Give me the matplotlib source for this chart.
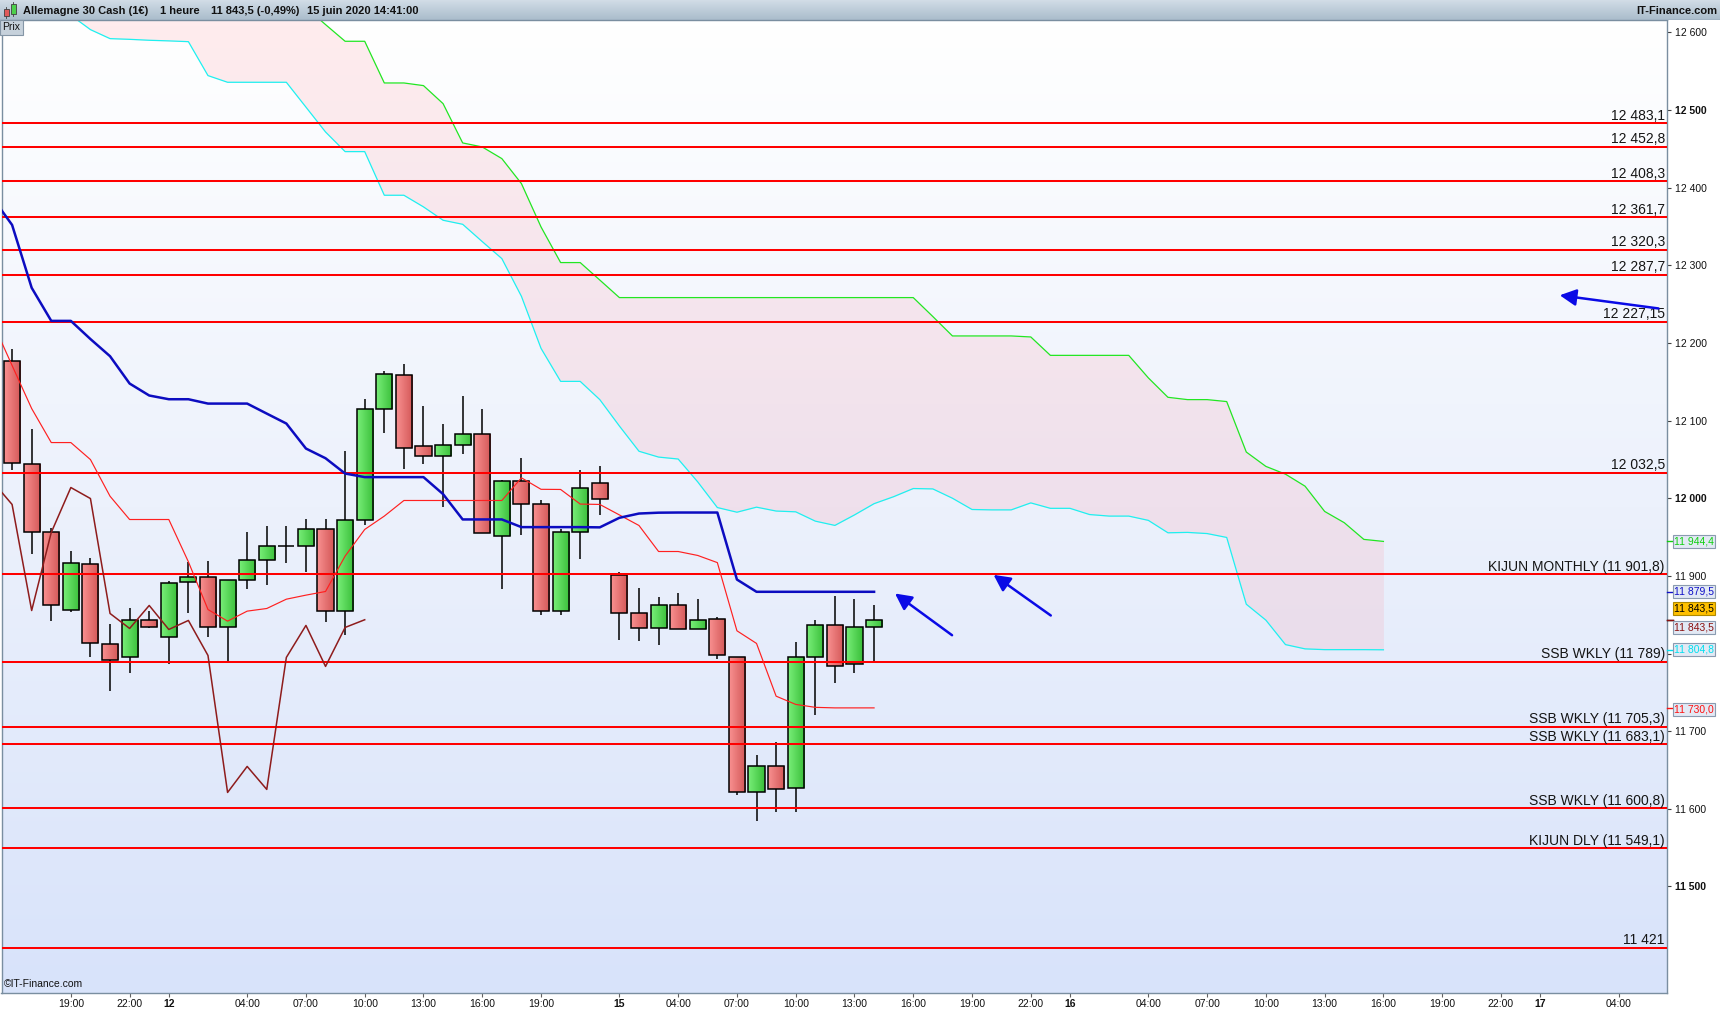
import numpy as np
import matplotlib
matplotlib.use('Agg')
import matplotlib.pyplot as plt
import matplotlib.transforms as mtransforms
from matplotlib.colors import LinearSegmentedColormap
from matplotlib.patches import Rectangle

plt.rcParams['font.family'] = ['Liberation Sans', 'DejaVu Sans']

# ---------------- data (hourly bars, index 0 = 11 juin 16:00) ----------------
opens = [12177.3, 12044.7, 11957.1, 11856.7, 11914.7, 11811.7, 11794.9, 11842.6, 11820.7, 11891.5,
         11899.2, 11834.8, 11894.1, 11921.1, 11939.1, 11939.1, 11961.0, 11855.4, 11972.6, 12115.5,
         12159.3, 12067.9, 12055.0, 12069.2, 12082.1, 11952.0, 12021.6, 11993.2, 11855.4, 11955.9,
         12019.0, 11900.9, 11851.6, 11832.3, 11861.9, 11831.0, 11845.1, 11795.8, 11621.1, 11654.6,
         11627.2, 11795.0, 11836.2, 11786.0, 11833.6]
highs = [12192.8, 12088.9, 11962.3, 11931.8, 11922.4, 11837.8, 11858.0, 11854.6, 11893.2, 11918.1,
         11919.0, 11895.0, 11956.3, 11964.0, 11964.0, 11973.9, 11973.9, 12060.6, 12128.4, 12163.6,
         12172.6, 12118.6, 12095.4, 12132.3, 12114.3, 12024.1, 12051.6, 11997.5, 11960.2, 12036.1,
         12041.3, 11904.8, 11884.2, 11872.6, 11877.7, 11870.0, 11846.8, 11795.8, 11668.8, 11686.0,
         11814.7, 11843.0, 11873.9, 11870.1, 11862.4]
lows = [12037.0, 11928.0, 11842.1, 11853.7, 11795.8, 11752.0, 11775.2, 11832.3, 11786.3, 11852.4,
        11821.5, 11790.6, 11883.3, 11888.0, 11916.8, 11905.2, 11840.8, 11823.7, 11965.3, 12084.2,
        12037.9, 12044.3, 11988.9, 12057.2, 11954.6, 11882.9, 11952.5, 11849.9, 11849.9, 11922.0,
        11978.6, 11817.2, 11816.4, 11811.2, 11831.0, 11831.0, 11793.2, 11618.1, 11584.7, 11596.3,
        11596.3, 11721.2, 11762.4, 11775.2, 11790.3]
closes = [12046.0, 11957.1, 11861.9, 11916.8, 11814.2, 11791.1, 11842.6, 11834.8, 11890.2, 11898.4,
          11834.8, 11894.1, 11921.1, 11939.1, 11939.1, 11961.0, 11855.4, 11972.6, 12115.5, 12160.6,
          12064.1, 12055.0, 12069.2, 12082.1, 11954.6, 12021.6, 11992.0, 11855.4, 11955.9, 12013.8,
          11999.6, 11851.6, 11832.3, 11861.9, 11831.0, 11842.6, 11797.5, 11621.1, 11654.6, 11625.0,
          11795.0, 11836.2, 11783.4, 11833.6, 11843.5]

KIJUN_START = -1
kijun = [12387, 12352, 12271, 12228.4, 12228.4, 12205, 12182.9, 12147.7, 12132.3, 12127.5,
         12127.5, 12121.9, 12121.9, 12121.9, 12109, 12096.2, 12064.0, 12051.5, 12031.8, 12027.2,
         12027.2, 12027.2, 12027.2, 12005.3, 11972.7, 11972.7, 11972.7, 11962.8, 11962.8, 11962.8,
         11962.8, 11962.5, 11974.8, 11980.3, 11981.4, 11981.6, 11981.6, 11981.6, 11895.3, 11879.5,
         11879.5, 11879.5, 11879.5, 11879.5, 11879.5, 11879.5]
TENKAN_START = -1
tenkan = [12227, 12171, 12115.5, 12071.7, 12071.7, 12049.8, 12002.6, 11972.6, 11972.6, 11972.6,
          11918.1, 11856.7, 11841.7, 11854.6, 11858.0, 11870.0, 11875.2, 11879.9, 11925.5, 11959.8,
          11977.0, 11997.1, 11997.1, 11997.1, 11997.1, 11997.1, 11997.1, 12026.3, 12011.5, 12011.3,
          11992.5, 11992.0, 11978.5, 11964.9, 11931.4, 11931.4, 11926.3, 11917.1, 11829.3, 11813.0,
          11745.1, 11734.5, 11730.7, 11730.0, 11730.0, 11730.0]
CHIKOU_SHIFT = 26
SPAN_A_START = 2
span_a = [12640, 12622, 12603.5, 12591.9, 12591.0, 12589.8, 12589.0, 12588.0, 12544.3, 12535.7,
          12535.7, 12535.7, 12535.7, 12503.7, 12471.7, 12446.4, 12446.4, 12390.2, 12390.2, 12375.2,
          12358.0, 12352.8, 12330.5, 12308.6, 12260.0, 12193.0, 12150.5, 12150.5, 12127.0, 12093.0,
          12060.5, 12053.0, 12050.5, 12021.0, 11988.0, 11982.0, 11988.5, 11983.5, 11982.5, 11970.5,
          11965.0, 11978.5, 11993.0, 12002.0, 12012.5, 12012.0, 12000.0, 11985.5, 11985.0, 11985.0,
          11994.0, 11987.0, 11987.0, 11979.0, 11977.0, 11977.0, 11971.5, 11955.5, 11956.0, 11954.5,
          11949.5, 11863.5, 11843.0, 11811.5, 11806.0, 11805.0, 11805.0, 11805.0, 11804.8]
SPAN_B_START = 15
span_b = [12632, 12610, 12588.5, 12588.5, 12534.8, 12534.8, 12531.4, 12508.2, 12457.6, 12452.4,
          12437.4, 12405.2, 12349.4, 12303.5, 12303.5, 12281.0,
          12258.4, 12258.4, 12258.4, 12258.4, 12258.4, 12258.4, 12258.4, 12258.4,
          12258.4, 12258.4, 12258.4, 12258.4, 12258.4, 12258.4, 12258.4, 12258.4,
          12234.0, 12209.0, 12209.0, 12209.0, 12209.0, 12207.7, 12184.0, 12184.0, 12184.0, 12184.0,
          12184.0, 12155.0, 12130.0, 12127.0, 12127.0, 12124.5, 12059.5, 12041.0, 12031.0, 12015.5,
          11983.0, 11968.5, 11947.0, 11944.4]

level_values = [12483.1, 12452.8, 12408.3, 12361.7, 12320.3, 12287.7, 12227.15, 12032.5,
                11901.8, 11789.0, 11705.3, 11683.1, 11600.8, 11549.1, 11421.0]
level_labels = ['12 483,1', '12 452,8', '12 408,3', '12 361,7', '12 320,3', '12 287,7', '12 227,15',
                '12 032,5', 'KIJUN MONTHLY (11 901,8)', 'SSB WKLY (11 789)', 'SSB WKLY (11 705,3)',
                'SSB WKLY (11 683,1)', 'SSB WKLY (11 600,8)', 'KIJUN DLY (11 549,1)', '11 421']

# 11 800 is hidden behind the value tags in the reference
ytick_values = [11500, 11600, 11700, 11800, 11900, 12000, 12100, 12200, 12300, 12400, 12500, 12600]
ytick_labels = ['11 500', '11 600', '11 700', '', '11 900', '12 000', '12 100', '12 200',
                '12 300', '12 400', '12 500', '12 600']
ytick_bold = [11500, 12000, 12500]

xtick_pos = [3, 6, 8, 12, 15, 18, 21, 24, 27, 31, 34, 37, 40, 43, 46, 49, 52, 54, 58, 61, 64, 67,
             70, 73, 76, 78, 82]
xtick_labels = ['19:00', '22:00', '12', '04:00', '07:00', '10:00', '13:00', '16:00', '19:00', '15',
                '04:00', '07:00', '10:00', '13:00', '16:00', '19:00', '22:00', '16', '04:00', '07:00',
                '10:00', '13:00', '16:00', '19:00', '22:00', '17', '04:00']
day_labels = ['12', '15', '16', '17']

# arrows (tail -> head) in chart coordinates
arrow_tails = [(47.98, 11823.6), (53.02, 11849.0), (84.04, 12244.4)]
arrow_heads = [(45.07, 11877.3), (50.10, 11901.3), (79.00, 12261.4)]

# right-axis value boxes: (value, label, text colour, face colour, label offset)
value_tags = [(11944.4, '11 944,4', '#10d010', None, 0.0),
              (11879.5, '11 879,5', '#1010c8', None, 0.0),
              (11843.5, '11 843,5', '#000000', '#ffc000', 15.0),
              (11843.5, '11 843,5', '#8b1010', None, -9.5),
              (11804.8, '11 804,8', '#00e0f0', None, 0.0),
              (11730.0, '11 730,0', '#ff1010', None, -2.0)]

title_parts = [(23, 'Allemagne 30 Cash (1€)'), (160, '1 heure'), (211, '11 843,5 (-0,49%)'),
               (307, '15 juin 2020 14:41:00')]

# ---------------- figure ----------------
W, H = 1720, 1010
fig = plt.figure(figsize=(W / 100, H / 100), dpi=100, facecolor='white')


def px_rect(x0, y0, x1, y1):
    return [x0 / W, 1 - y1 / H, (x1 - x0) / W, (y1 - y0) / H]


ax = fig.add_axes(px_rect(1.5, 20, 1667.3, 992.7))
XMIN, XMAX = -0.54, 84.49
YMIN, YMAX = 11363.2, 12615.9

# background gradient
grad = np.linspace(0, 1, 256).reshape(-1, 1)
bg_cmap = LinearSegmentedColormap.from_list('bg', ['#d8e3fa', '#ecf1fc', '#ffffff'])
ax.imshow(grad, extent=[0, 1, 0, 1], transform=ax.transAxes, cmap=bg_cmap, aspect='auto',
          origin='lower', zorder=0, interpolation='bilinear')

# cloud
sa_x = SPAN_A_START + np.arange(len(span_a))
sb_x = SPAN_B_START + np.arange(len(span_b))
sa = np.array(span_a, dtype=float)
sb_on_a = np.full(len(sa), YMAX + 200.0)
for xx, vv in zip(sb_x, span_b):
    sb_on_a[xx - SPAN_A_START] = vv
ax.fill_between(sa_x, sa, sb_on_a, where=sb_on_a >= sa, color='#ff8c9a', alpha=0.16, lw=0,
                zorder=1)
ax.plot(sa_x, sa, color='#1ef0f0', lw=0.9, zorder=2)
ax.plot(sb_x, span_b, color='#22e622', lw=0.9, zorder=2)

# candles
idx = np.arange(len(closes))
o = np.array(opens); c = np.array(closes); h = np.array(highs); l = np.array(lows)
ax.vlines(idx, l, h, color='black', lw=1.1, zorder=3)
bw = 0.82
bottoms = np.minimum(o, c)
heights = np.abs(c - o)
red_cmap = LinearSegmentedColormap.from_list('r', ['#f89090', '#d45858'])
green_cmap = LinearSegmentedColormap.from_list('g', ['#78ee78', '#3abf3a'])
bars = ax.bar(idx, heights, bottom=bottoms, width=bw, facecolor='none', edgecolor='black',
              lw=1.1, zorder=4)
hgrad = np.linspace(0, 1, 32).reshape(1, -1)
for i, patch in enumerate(bars):
    if heights[i] < 0.5:
        continue
    cm = green_cmap if c[i] >= o[i] else red_cmap
    im = ax.imshow(hgrad, extent=[i - bw / 2, i + bw / 2, bottoms[i], bottoms[i] + heights[i]],
                   cmap=cm, aspect='auto', zorder=3.5, interpolation='bilinear')
    im.set_clip_path(patch)

# horizontal levels
blend = mtransforms.blended_transform_factory(ax.transAxes, ax.transData)
for v, lab in zip(level_values, level_labels):
    ax.axhline(v, color='#ff0000', lw=1.45, zorder=5)
    ax.annotate(lab, xy=(1.0, v), xycoords=blend, xytext=(-1.8, 2.6), textcoords='offset points',
                ha='right', va='baseline', fontsize=10, color='#151515', zorder=6)

# ichimoku lines over candles
ax.plot(TENKAN_START + np.arange(len(tenkan)), tenkan, color='#ff2020', lw=0.85, zorder=5.5)
ax.plot(idx - CHIKOU_SHIFT, closes, color='#8e1c1c', lw=1.1, zorder=5.5)
ax.plot(KIJUN_START + np.arange(len(kijun)), kijun, color='#0c0cc0', lw=1.8, zorder=5.6,
        solid_joinstyle='round')

# arrows
for (tx, ty), (hx, hy) in zip(arrow_tails, arrow_heads):
    ax.annotate('', xy=(hx, hy), xytext=(tx, ty),
                arrowprops=dict(arrowstyle='-|>,head_length=0.55,head_width=0.28',
                                color='#0a0ae6', lw=1.8, mutation_scale=18,
                                shrinkA=0, shrinkB=0), zorder=7)

# axes styling
ax.set_xlim(XMIN, XMAX)
ax.set_ylim(YMIN, YMAX)
ax.yaxis.tick_right()
ax.set_yticks(ytick_values)
ax.set_yticklabels(ytick_labels)
for t, v in zip(ax.get_yticklabels(), ytick_values):
    if v in ytick_bold:
        t.set_fontweight('bold')
ax.tick_params(axis='y', direction='out', length=3, width=0.8, color='#404040', labelsize=7.5,
               pad=2.5, labelcolor='#111111')
ax.set_xticks(xtick_pos)
ax.set_xticklabels(xtick_labels)
for t in ax.get_xticklabels():
    if t.get_text() in day_labels:
        t.set_fontweight('bold')
        t.set_fontsize(9)
ax.tick_params(axis='x', direction='out', length=3, width=0.8, color='#606060', labelsize=7.5,
               pad=1.2, labelcolor='#111111')
for s in ax.spines.values():
    s.set_color('#7a8ea0')
    s.set_linewidth(1.0)

ax.text(0.0012, 0.0088, '©IT-Finance.com', transform=ax.transAxes, fontsize=7.5, va='center',
        ha='left', color='#111111', zorder=8)

# value tags on the right axis
for v, lab, tc, fc, off in value_tags:
    ax.plot([1.0, 1.0032], [v, v], transform=blend, clip_on=False, color=tc, lw=1.0, zorder=8)
    face = fc if fc is not None else '#e2e9f4'
    edge = '#b08a00' if fc is not None else '#8a9bb0'
    ax.text(1.0040, v + off, lab, transform=blend, ha='left', va='center', fontsize=7.5,
            color=tc, zorder=9, clip_on=False,
            bbox=dict(boxstyle='square,pad=0.14', fc=face, ec=edge, lw=0.8))

# ---------------- title bar ----------------
tb = fig.add_axes(px_rect(0, 0, W, 20))
tb.set_xlim(0, W)
tb.set_ylim(20, 0)
tb.axis('off')
tb_cmap = LinearSegmentedColormap.from_list('tb', ['#a9bccb', '#d2dde7'])
tb.imshow(grad, extent=[0, W, 20, 0], cmap=tb_cmap, aspect='auto', origin='lower', zorder=0)
tb.plot([0, W], [19.5, 19.5], color='#7f93a4', lw=1.0, zorder=1)
# icon
tb.add_patch(Rectangle((3.5, 8.5), 5, 7, fc='#e05a5a', ec='#404040', lw=0.6, zorder=2))
tb.plot([6, 6], [6.5, 17.5], color='#404040', lw=0.6, zorder=1.5)
tb.add_patch(Rectangle((10.5, 3.5), 5, 10, fc='#4cd04c', ec='#404040', lw=0.6, zorder=2))
tb.plot([13, 13], [1.5, 16], color='#404040', lw=0.6, zorder=1.5)
for x0, txt in title_parts:
    tb.text(x0, 10.5, txt, fontsize=8, fontweight='bold', va='center', ha='left', color='#111111')
tb.text(1717, 10.5, 'IT-Finance.com', fontsize=8, fontweight='bold', va='center', ha='right',
        color='#111111')

fig.text(2.5 / W, 1 - 27.5 / H, 'Prix', fontsize=7.5, va='center', ha='left', color='#111111',
         zorder=20, bbox=dict(boxstyle='square,pad=0.22', fc='#c6d1db', ec='#8596a6', lw=0.8))

fig.savefig('out.png', dpi=100, facecolor='white')
